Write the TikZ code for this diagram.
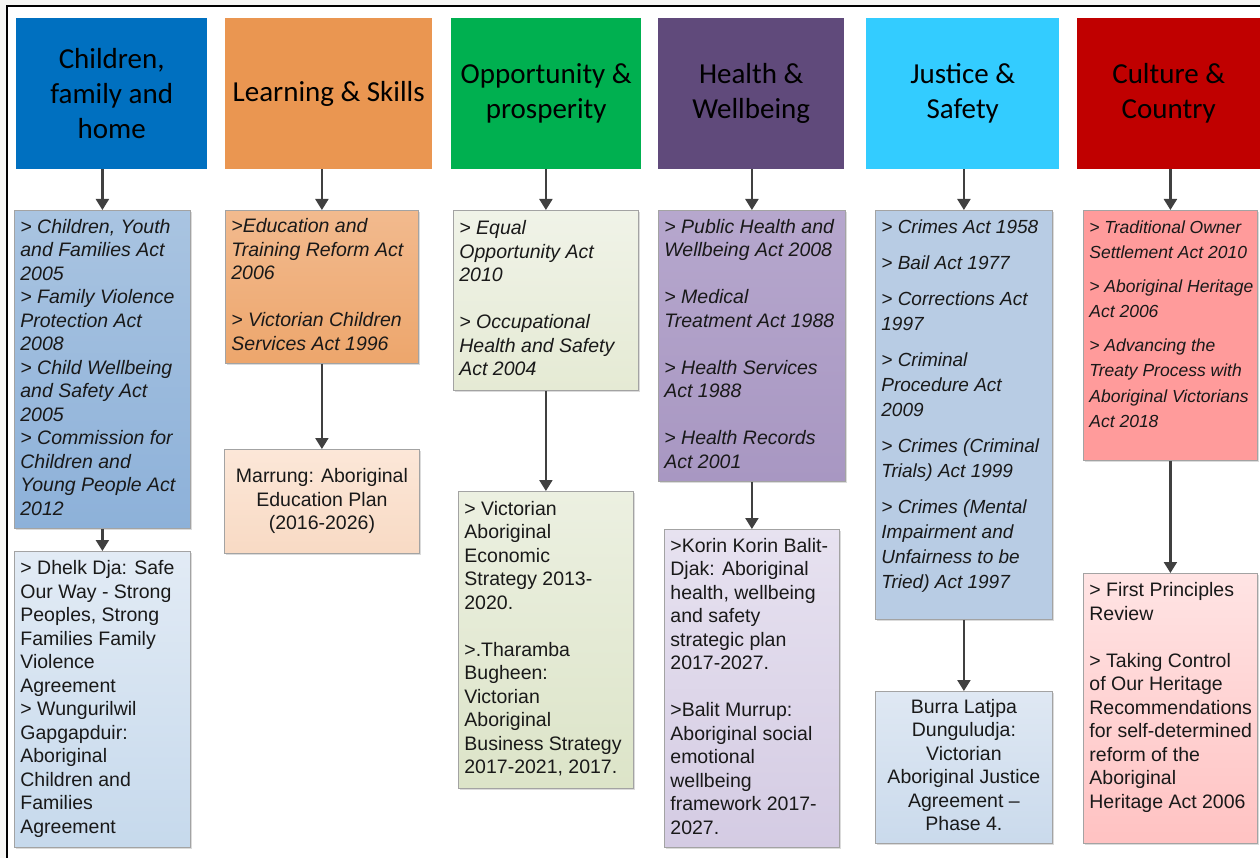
\documentclass[tikz,border=0pt]{standalone}
\usepackage{fontspec}
\setmainfont{Liberation Sans}
\newfontfamily\hdrfont{Carlito}
\usetikzlibrary{arrows.meta,shadows}
\definecolor{pagegrey}{HTML}{F6F6F4}
\definecolor{hA}{HTML}{0070C0}
\definecolor{hB}{HTML}{EA9651}
\definecolor{hC}{HTML}{00B050}
\definecolor{hD}{HTML}{604A7B}
\definecolor{hE}{HTML}{33CCFF}
\definecolor{hF}{HTML}{C00000}
\definecolor{boxline}{HTML}{A3A3A3}
\definecolor{arrowgrey}{HTML}{404040}
\definecolor{aAt}{HTML}{A9C4E1}\definecolor{aAb}{HTML}{8DB1D9}
\definecolor{bAt}{HTML}{E2EBF5}\definecolor{bAb}{HTML}{C6D9EC}
\definecolor{aBt}{HTML}{F2BA8E}\definecolor{aBb}{HTML}{EDA66C}
\definecolor{bBt}{HTML}{FCE7D8}\definecolor{bBb}{HTML}{F8DAC4}
\definecolor{aCt}{HTML}{F0F3E8}\definecolor{aCb}{HTML}{E5EAD4}
\definecolor{bCt}{HTML}{ECF0E1}\definecolor{bCb}{HTML}{DCE4C8}
\definecolor{aDt}{HTML}{B6A7CD}\definecolor{aDb}{HTML}{A897C2}
\definecolor{bDt}{HTML}{E7E2F0}\definecolor{bDb}{HTML}{D4CBE3}
\definecolor{aE}{HTML}{B8CCE4}
\definecolor{bEt}{HTML}{DFE8F3}\definecolor{bEb}{HTML}{CADAEC}
\definecolor{aF}{HTML}{FF9B9B}
\definecolor{bFt}{HTML}{FFE4E4}\definecolor{bFb}{HTML}{FFC2C2}
\newcommand\lefttab[2]{\makebox[#1][l]{\begin{tabular}{@{}l@{}}#2\end{tabular}}}
\newcommand\toptab[3]{\parbox[c][#2][t]{#1}{\begin{tabular}[t]{@{}l@{}}#3\end{tabular}}}
\newcommand\centtab[1]{\begin{tabular}{@{}c@{}}#1\end{tabular}}
\begin{document}
\begin{tikzpicture}[x=1pt,y=-1pt,
  hdr/.style={anchor=north west, inner sep=0pt, align=center, text=black,
    font=\hdrfont\fontsize{29}{35}\selectfont},
  bx/.style={anchor=north west, draw=boxline, line width=0.8pt, inner xsep=6pt, inner ysep=0pt,
    drop shadow={shadow xshift=2pt, shadow yshift=-2pt, opacity=0.28}},
  act/.style={font=\itshape\fontsize{19.5}{23.5}\selectfont, text=black!90},
  plan/.style={font=\fontsize{19.5}{23.5}\selectfont, text=black!90},
  conn/.style={draw=arrowgrey, line width=2.2pt, -{Triangle[length=11pt,width=13pt]}}
]
\useasboundingbox (0,0) rectangle (1260,858);
\fill[pagegrey] (0,0) rectangle (1260,858);
\fill[white] (7,7) rectangle (1260,858);
\draw[line width=2pt, black] (6.5,858) -- (6.5,6.5) -- (1260,6.5);

% headers
\node[hdr, fill=hA, minimum width=191pt, minimum height=151pt] (h1) at (16,18) {Children,\\family and\\home};
\node[hdr, fill=hB, minimum width=207pt, minimum height=151pt] (h2) at (225,18) {Learning \& Skills};
\node[hdr, fill=hC, minimum width=190pt, minimum height=151pt] (h3) at (451,18) {Opportunity \&\\prosperity};
\node[hdr, fill=hD, minimum width=186pt, minimum height=151pt] (h4) at (658,18) {Health \&\\Wellbeing};
\node[hdr, fill=hE, minimum width=193pt, minimum height=151pt] (h5) at (866,18) {Justice \&\\Safety};
\node[hdr, fill=hF, minimum width=183pt, minimum height=151pt] (h6) at (1077,18) {Culture \&\\Country};

% column 1
\node[bx, act, top color=aAt, bottom color=aAb, minimum width=176pt, minimum height=318pt] (a1) at (14,210)
 {\lefttab{164pt}{> Children, Youth\\and Families Act\\2005\\> Family Violence\\Protection Act\\2008\\> Child Wellbeing\\and Safety Act\\2005\\> Commission for\\Children and\\Young People Act\\2012}};
\node[bx, plan, top color=bAt, bottom color=bAb, minimum width=176pt, minimum height=296pt] (b1) at (14,551)
 {\lefttab{164pt}{> Dhelk Dja: Safe\\Our Way - Strong\\Peoples, Strong\\Families Family\\Violence\\Agreement\\> Wungurilwil\\Gapgapduir:\\Aboriginal\\Children and\\Families\\Agreement}};

% column 2
\node[bx, act, top color=aBt, bottom color=aBb, minimum width=193pt, minimum height=153pt] (a2) at (225,210)
 {\lefttab{181pt}{>Education and\\Training Reform Act\\2006\\ \\> Victorian Children\\Services Act 1996}};
\node[bx, plan, top color=bBt, bottom color=bBb, minimum width=195pt, minimum height=104pt] (b2) at (224,449)
 {\centtab{Marrung: Aboriginal\\Education Plan\\(2016-2026)}};

% column 3
\node[bx, act, top color=aCt, bottom color=aCb, minimum width=185pt, minimum height=180pt] (a3) at (453,210)
 {\lefttab{173pt}{> Equal\\Opportunity Act\\2010\\ \\> Occupational\\Health and Safety\\Act 2004}};
\node[bx, plan, top color=bCt, bottom color=bCb, minimum width=175pt, minimum height=297pt] (b3) at (458,491)
 {\lefttab{163pt}{> Victorian\\Aboriginal\\Economic\\Strategy 2013-\\2020.\\ \\>.Tharamba\\Bugheen:\\Victorian\\Aboriginal\\Business Strategy\\2017-2021, 2017.}};

% column 4
\node[bx, act, top color=aDt, bottom color=aDb, minimum width=187pt, minimum height=271pt] (a4) at (658,210)
 {\lefttab{175pt}{> Public Health and\\Wellbeing Act 2008\\ \\> Medical\\Treatment Act 1988\\ \\> Health Services\\Act 1988\\ \\> Health Records\\Act 2001}};
\node[bx, plan, top color=bDt, bottom color=bDb, minimum width=175pt, minimum height=318pt] (b4) at (664,529)
 {\lefttab{163pt}{>Korin Korin Balit-\\Djak: Aboriginal\\health, wellbeing\\and safety\\strategic plan\\2017-2027.\\ \\>Balit Murrup:\\Aboriginal social\\emotional\\wellbeing\\framework 2017-\\2027.}};

% column 5
\node[bx, font=\itshape\fontsize{19}{25}\selectfont, text=black!90, fill=aE, inner ysep=6pt, minimum width=177pt, minimum height=409pt] (a5) at (875,210)
 {\toptab{165pt}{397pt}{> Crimes Act 1958\\[11pt]> Bail Act 1977\\[11pt]> Corrections Act\\1997\\[11pt]> Criminal\\Procedure Act\\2009\\[11pt]> Crimes (Criminal\\Trials) Act 1999\\[11pt]> Crimes (Mental\\Impairment and\\Unfairness to be\\Tried) Act 1997}};
\node[bx, plan, top color=bEt, bottom color=bEb, minimum width=177pt, minimum height=152pt] (b5) at (875,691)
 {\centtab{Burra Latjpa\\Dunguludja:\\Victorian\\Aboriginal Justice\\Agreement --\\Phase 4.}};

% column 6
\node[bx, font=\itshape\fontsize{17.5}{25.5}\selectfont, text=black!90, fill=aF, inner ysep=5pt, minimum width=174pt, minimum height=250pt] (a6) at (1083,210)
 {\toptab{162pt}{240pt}{> Traditional Owner\\Settlement Act 2010\\[8pt]> Aboriginal Heritage\\Act 2006\\[8pt]> Advancing the\\Treaty Process with\\Aboriginal Victorians\\Act 2018}};
\node[bx, plan, top color=bFt, bottom color=bFb, inner ysep=7pt, minimum width=174pt, minimum height=270pt] (b6) at (1083,573)
 {\toptab{162pt}{256pt}{> First Principles\\Review\\ \\> Taking Control\\of Our Heritage\\Recommendations\\for self-determined\\reform of the\\Aboriginal\\Heritage Act 2006}};

% connectors
\foreach \c in {1,...,6} {
  \draw[conn] (h\c.south -| a\c.north) -- (a\c.north);
  \draw[conn] (a\c.south) -- (a\c.south |- b\c.north);
}
\end{tikzpicture}
\end{document}
